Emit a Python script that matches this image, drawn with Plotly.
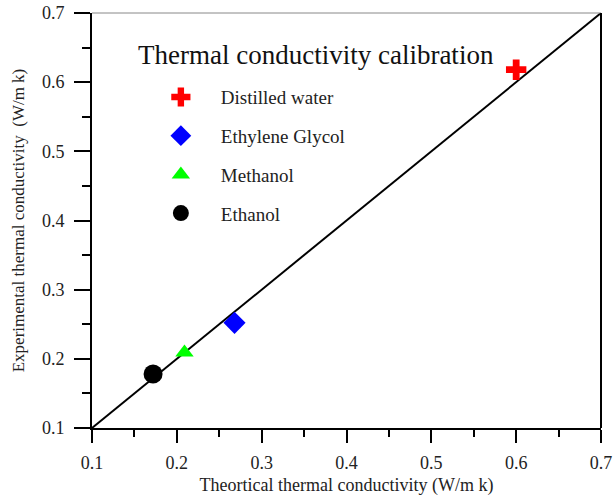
import plotly.graph_objects as go

# Data
names = ["Distilled water", "Ethylene Glycol", "Methanol", "Ethanol"]
theoretical = [0.600, 0.268, 0.209, 0.172]
experimental = [0.618, 0.252, 0.209, 0.178]
colors = ["#ff0000", "#0000ff", "#00ff00", "#000000"]
symbols = ["cross", "diamond", "triangle-up", "circle"]
sizes = [17, 17, 16, 19]

ref_line_x = [0.1, 0.7]
ref_line_y = [0.1, 0.7]

tick_vals = [0.1, 0.2, 0.3, 0.4, 0.5, 0.6, 0.7]
tick_text = ["0.1", "0.2", "0.3", "0.4", "0.5", "0.6", "0.7"]

FONT = "Liberation Serif"

fig = go.Figure()
fig.add_trace(go.Scatter(x=ref_line_x, y=ref_line_y, mode="lines",
                         line=dict(color="black", width=2), showlegend=False,
                         hoverinfo="skip"))
for i, n in enumerate(names):
    fig.add_trace(go.Scatter(
        x=[theoretical[i]], y=[experimental[i]], mode="markers", name=n,
        legendgroup=n,
        marker=dict(symbol=symbols[i], color=colors[i], size=sizes[i],
                    line=dict(width=0)),
    ))

axis_common = dict(
    range=[0.1, 0.7], tickvals=tick_vals, ticktext=tick_text,
    showgrid=False, zeroline=False, showline=True, linecolor="black",
    linewidth=2, ticks="outside", tickwidth=2, tickcolor="black",
    tickfont=dict(family=FONT, size=18, color="#222"), automargin=False,
)

fig.update_layout(
    width=613, height=501,
    margin=dict(l=92, r=12, t=13, b=73),
    paper_bgcolor="white", plot_bgcolor="white",
    font=dict(family=FONT, color="#222"),
    xaxis=dict(**axis_common, ticklen=13, ticklabelstandoff=4,
               minor=dict(ticks="outside", ticklen=7, tickwidth=2,
                          tickcolor="black", dtick=0.05, tick0=0.1),
               title=dict(text="Theortical thermal conductivity (W/m k)",
                          font=dict(family=FONT, size=18, color="#222"),
                          standoff=7)),
    yaxis=dict(**axis_common, ticklen=16, ticklabelstandoff=6,
               minor=dict(ticks="outside", ticklen=8, tickwidth=2,
                          tickcolor="black", dtick=0.05, tick0=0.1),
               title=dict(text="Experimental thermal conductivity \u00a0(W/m k)",
                          font=dict(family=FONT, size=17, color="#222"),
                          standoff=13)),
    legend=dict(x=0.096, y=0.843, xanchor="left", yanchor="top",
                bgcolor="rgba(0,0,0,0)", borderwidth=0, itemwidth=70,
                font=dict(family=FONT, size=19, color="#222"),
                tracegroupgap=11, traceorder="grouped"),
    shapes=[
        dict(type="line", xref="paper", yref="paper", x0=0, x1=1, y0=1, y1=1,
             line=dict(color="#888", width=1)),
        dict(type="line", xref="paper", yref="paper", x0=1, x1=1, y0=0, y1=1,
             line=dict(color="black", width=2)),
    ],
    annotations=[
        dict(text="Thermal conductivity calibration", xref="paper", yref="paper",
             x=0.44, y=0.899, xanchor="center", yanchor="middle",
             showarrow=False, font=dict(family=FONT, size=27, color="#111")),
    ],
)

fig.write_html("out.html")
